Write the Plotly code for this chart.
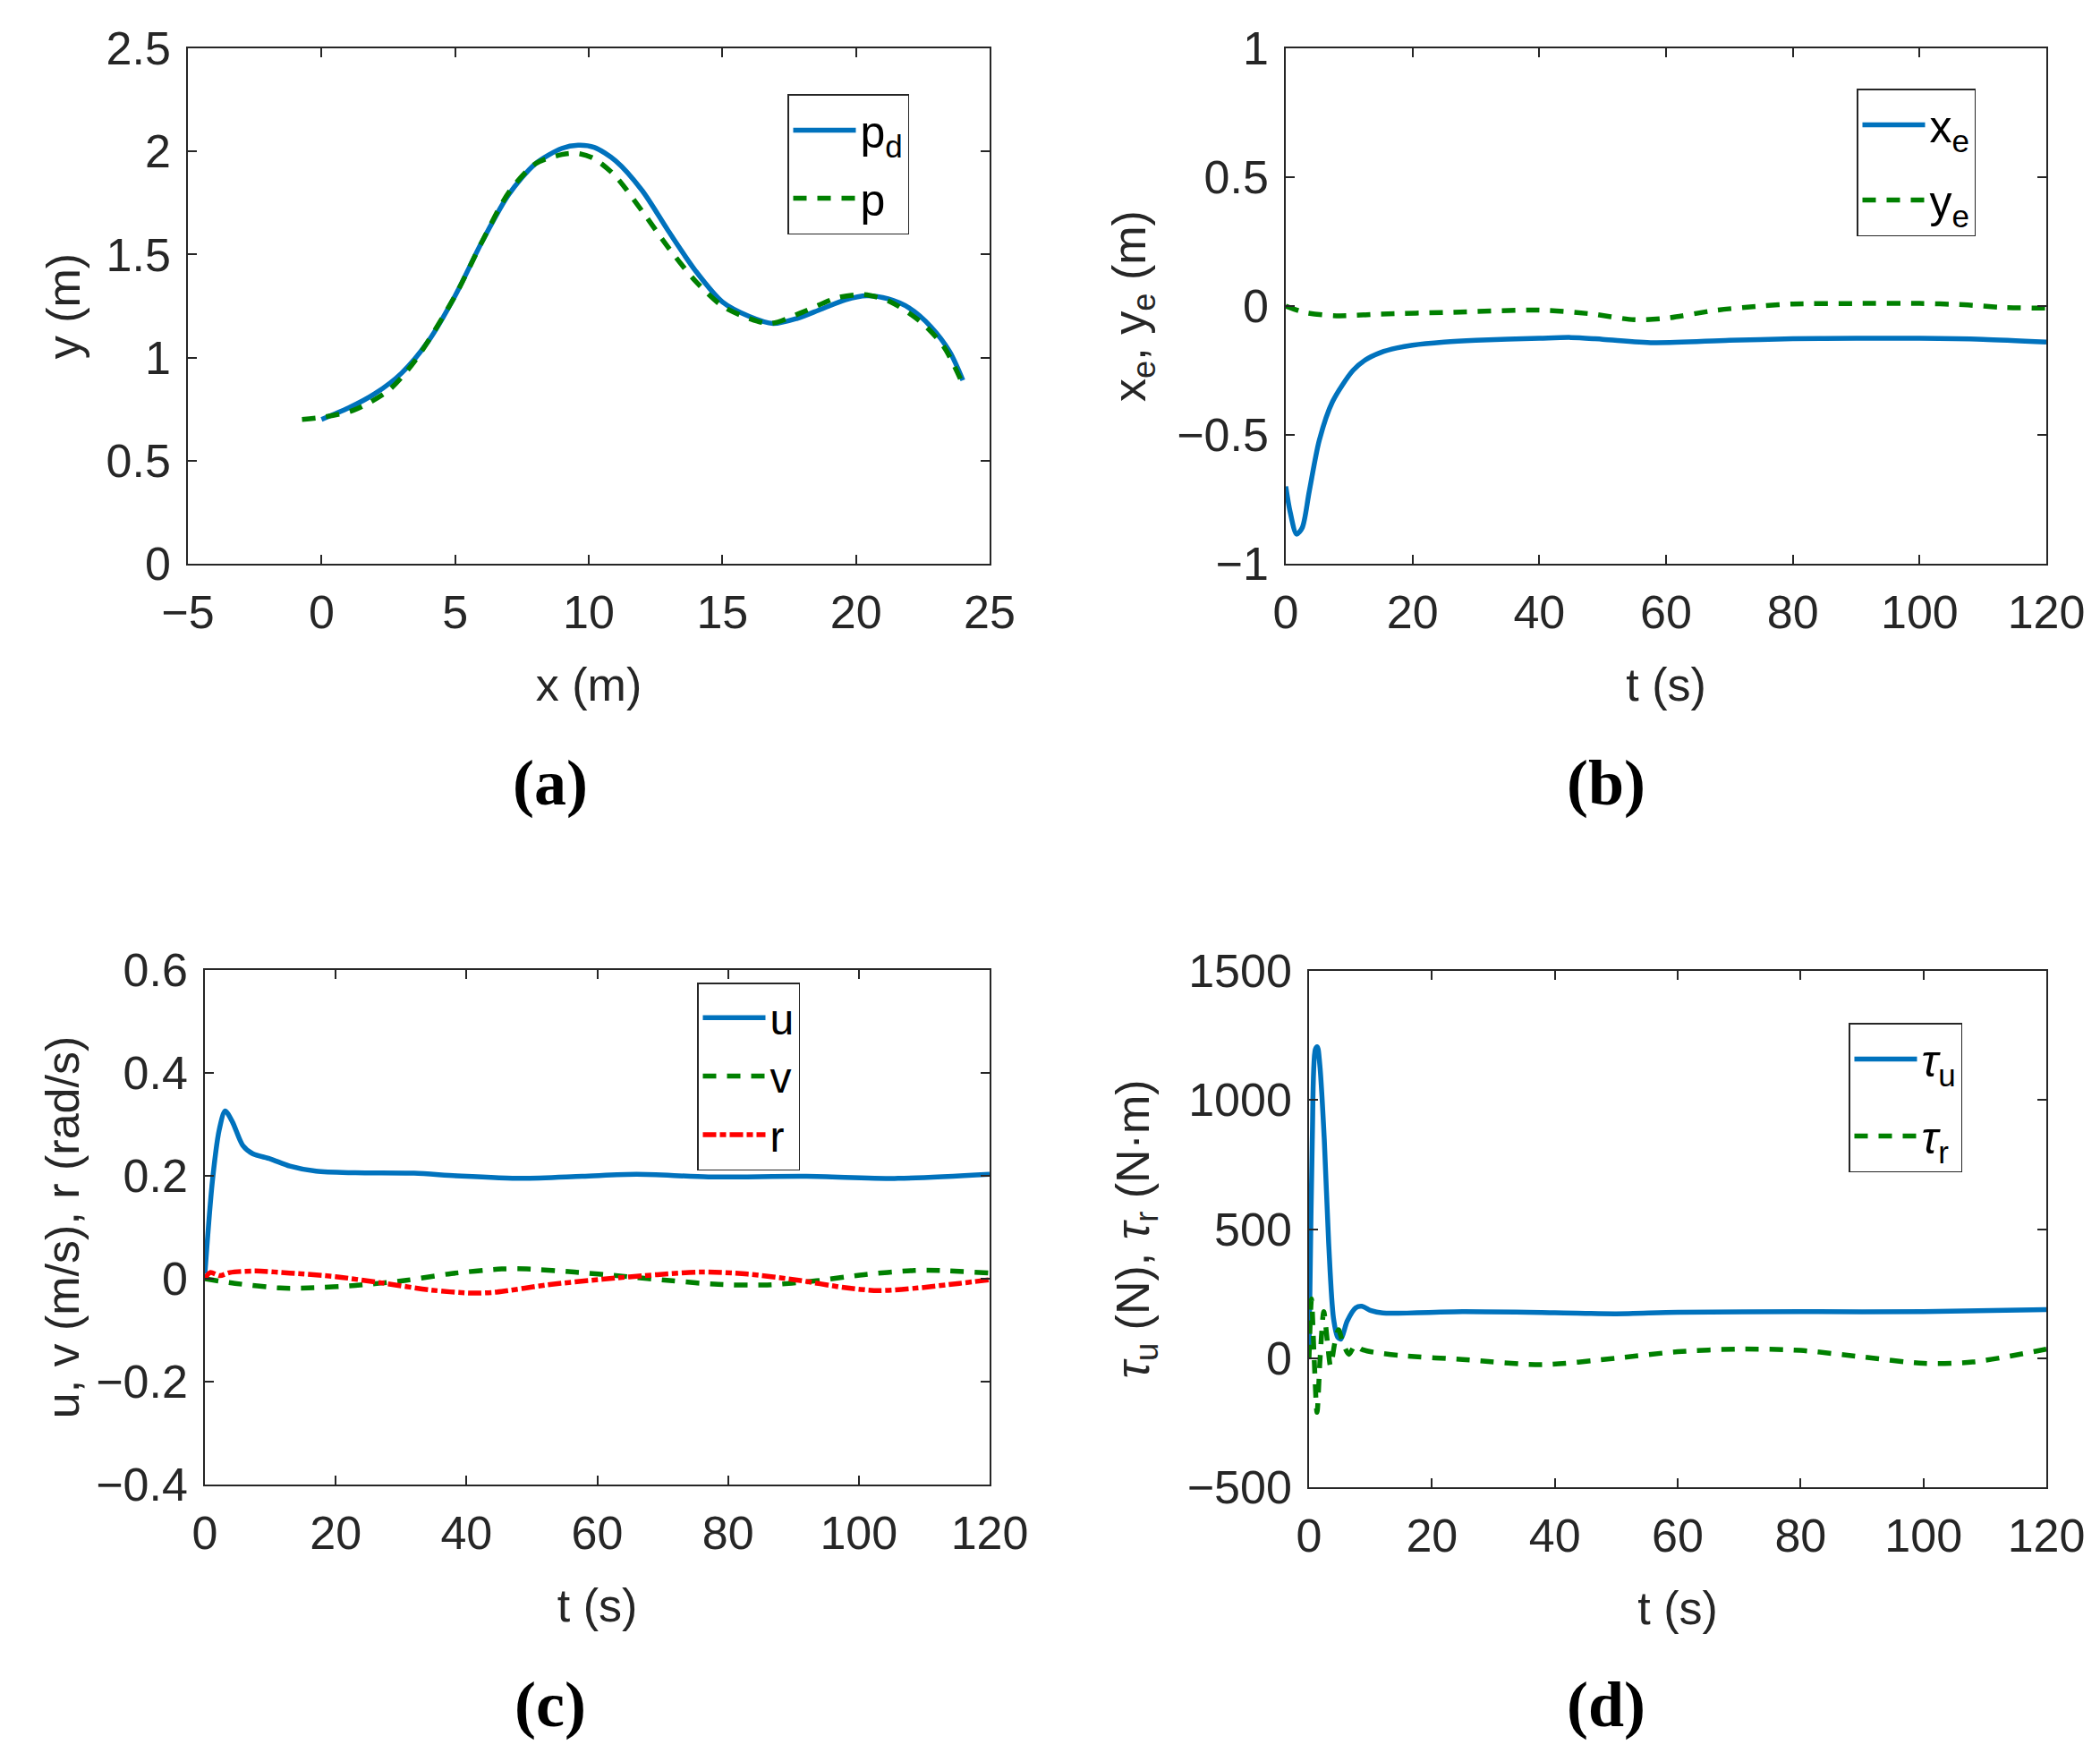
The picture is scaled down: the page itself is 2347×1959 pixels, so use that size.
import plotly.graph_objects as go

# ---- data ----
# (a) path: desired vs actual
pd_x = [0, 1, 2, 3, 4, 5, 6, 7, 8, 9, 9.6, 10.2, 11, 12, 13, 14, 15, 16, 16.9, 17.8, 18.7, 19.6, 20.4, 21.2, 22, 22.8, 23.5, 24]
pd_y = [0.70, 0.755, 0.825, 0.925, 1.08, 1.30, 1.56, 1.79, 1.94, 2.015, 2.03, 2.02, 1.955, 1.81, 1.61, 1.42, 1.27, 1.20, 1.165, 1.19, 1.235, 1.28, 1.30, 1.285, 1.24, 1.15, 1.03, 0.89]
p_x = [-0.73, 0, 1.2, 2.5, 3.5, 5, 6, 7, 8, 9, 9.6, 10.2, 11, 12, 13, 14, 15, 16, 16.8, 18, 19.3, 20.3, 21.3, 22.5, 23.3, 24]
p_y = [0.70, 0.71, 0.745, 0.84, 0.985, 1.30, 1.56, 1.80, 1.94, 1.985, 1.99, 1.965, 1.88, 1.71, 1.53, 1.37, 1.25, 1.19, 1.165, 1.22, 1.29, 1.305, 1.27, 1.165, 1.05, 0.87]

# (b) tracking errors
xe_t = [0, 0.7, 1.7, 2.6, 3.7, 5.3, 7.4, 10.6, 12.5, 15, 17.5, 20, 25, 30, 40, 45, 50, 58, 70, 80, 90, 100, 110, 120]
xe = [-0.70, -0.80, -0.885, -0.86, -0.72, -0.52, -0.37, -0.25, -0.21, -0.18, -0.163, -0.152, -0.14, -0.133, -0.125, -0.122, -0.129, -0.142, -0.133, -0.127, -0.125, -0.125, -0.129, -0.14]
ye_t = [0, 3, 8, 15, 25, 40, 48, 55, 60, 68, 75, 80, 90, 100, 107, 113, 120]
ye = [0.0, -0.025, -0.038, -0.031, -0.025, -0.016, -0.03, -0.053, -0.047, -0.016, 0.0, 0.008, 0.01, 0.01, 0.005, -0.005, -0.008]

# (c) velocities
u_t = [0, 1.15, 2.2, 3.1, 4.2, 5.8, 7.3, 10, 13, 17, 23, 32, 38.5, 48.5, 57.7, 66, 77, 92, 106, 120]
u = [0.01, 0.19, 0.29, 0.326, 0.305, 0.259, 0.243, 0.233, 0.219, 0.209, 0.206, 0.205, 0.200, 0.195, 0.199, 0.203, 0.198, 0.199, 0.195, 0.203]
v_t = [0, 4.6, 11.5, 15.8, 23, 30.8, 37.7, 45.4, 49.2, 56.5, 63.8, 71.5, 78.5, 86, 93.5, 100.8, 108.5, 112.3, 120]
v = [0.0, -0.009, -0.018, -0.018, -0.013, -0.003, 0.01, 0.019, 0.019, 0.013, 0.005, -0.004, -0.011, -0.012, -0.004, 0.008, 0.016, 0.016, 0.011]
r_t = [0, 0.8, 2.3, 3.8, 7.7, 13, 20, 27, 34.6, 40.8, 44.6, 52.3, 60.8, 69.2, 76, 83, 90.8, 97.7, 103, 109, 115.4, 120]
r = [0.0, 0.012, 0.006, 0.012, 0.015, 0.011, 0.004, -0.008, -0.022, -0.028, -0.026, -0.012, -0.001, 0.008, 0.013, 0.009, -0.003, -0.017, -0.023, -0.018, -0.009, -0.002]

# (d) control inputs
tu_t = [0, 0.15, 0.53, 1.02, 1.36, 1.75, 2.48, 3.2, 3.98, 4.7, 5.2, 6.2, 7.6, 8.6, 10.1, 12, 25, 40, 50, 60, 80, 100, 120]
tau_u = [50, 270, 848, 1195, 1206, 1137, 848, 444, 155, 80, 74, 143, 195, 201, 184, 175, 180, 176, 172, 178, 180, 180, 188]
tr_t = [0, 0.4, 0.8, 1.3, 1.8, 2.4, 3.0, 3.5, 4.2, 4.8, 5.5, 6.5, 7.5, 8.5, 10, 15, 25, 38, 50, 60, 70, 80, 90, 100, 108, 120]
tau_r = [0, 230, 20, -210, 0, 180, 60, -30, 60, 110, 60, 15, 50, 35, 25, 10, -5, -25, 0, 25, 35, 30, 5, -20, -15, 35]

# tick labels
a_xticks = [-5, 0, 5, 10, 15, 20, 25]
a_xtext = ['\u22125', '0', '5', '10', '15', '20', '25']
a_yticks = [0, 0.5, 1, 1.5, 2, 2.5]
a_ytext = ['0', '0.5', '1', '1.5', '2', '2.5']
t_ticks = [0, 20, 40, 60, 80, 100, 120]
t_text = ['0', '20', '40', '60', '80', '100', '120']
b_yticks = [-1, -0.5, 0, 0.5, 1]
b_ytext = ['\u22121', '\u22120.5', '0', '0.5', '1']
c_yticks = [-0.4, -0.2, 0, 0.2, 0.4, 0.6]
c_ytext = ['\u22120.4', '\u22120.2', '0', '0.2', '0.4', '0.6']
d_yticks = [-500, 0, 500, 1000, 1500]
d_ytext = ['\u2212500', '0', '500', '1000', '1500']

W, H = 2347, 1959
OFF = 8  # page body margin in the browser
BLUE = '#0072BD'
GREEN = '#008000'
RED = '#FF0000'
INK = '#262626'
LW = 5.5
DASH = '15px,12px'
DASHDOT = '15px,4px,7px,4px'

fig = go.Figure()

def line(x, y, name, color, dash, xa, ya, leg):
    fig.add_trace(go.Scatter(
        x=x, y=y, name=name, mode='lines', xaxis=xa, yaxis=ya,
        legend=leg, legendgroup=name,
        line=dict(color=color, width=LW, dash=dash, shape='spline', smoothing=0.8)
    ))

line(pd_x, pd_y, 'p<sub>d</sub>', BLUE, 'solid', 'x', 'y', 'legend')
line(p_x, p_y, 'p', GREEN, DASH, 'x', 'y', 'legend')
line(xe_t, xe, 'x<sub>e</sub>', BLUE, 'solid', 'x2', 'y2', 'legend2')
line(ye_t, ye, 'y<sub>e</sub>', GREEN, DASH, 'x2', 'y2', 'legend2')
line(u_t, u, 'u', BLUE, 'solid', 'x3', 'y3', 'legend3')
line(v_t, v, 'v', GREEN, DASH, 'x3', 'y3', 'legend3')
line(r_t, r, 'r', RED, DASHDOT, 'x3', 'y3', 'legend3')
line(tu_t, tau_u, '<i>\u03c4</i><sub>u</sub>', BLUE, 'solid', 'x4', 'y4', 'legend4')
line(tr_t, tau_r, '<i>\u03c4</i><sub>r</sub>', GREEN, DASH, 'x4', 'y4', 'legend4')

tick_font = dict(family='Liberation Sans', size=52, color=INK)
title_font = dict(family='Liberation Sans', size=52, color=INK)

def ax(domain, rng, vals, text, title, anchor, standoff, lab_off):
    return dict(domain=domain, range=rng, tickvals=vals, ticktext=text,
                showline=True, linecolor=INK, linewidth=1.5, mirror='ticks',
                ticks='inside', ticklen=10, tickwidth=1.5, tickcolor=INK,
                showgrid=False, zeroline=False, tickfont=tick_font,
                ticklabelstandoff=lab_off, automargin=False,
                anchor=anchor,
                title=dict(text=title, font=title_font, standoff=standoff))

def fx(a):
    return (a - OFF) / W

def fy(b):
    return 1 - (b - OFF) / H

def px(a, b):
    return [fx(a), fx(b)]

def py(top, bottom):
    return [fy(bottom), fy(top)]

XS, YS = 34, 12

fig.update_layout(
    width=W, height=H, margin=dict(l=0, r=0, t=0, b=0, autoexpand=False),
    paper_bgcolor='white', plot_bgcolor='white',
    xaxis=ax(px(210, 1106), [-5, 25], a_xticks, a_xtext, 'x (m)', 'y', XS, 8),
    yaxis=ax(py(54, 630), [0, 2.5], a_yticks, a_ytext, 'y (m)', 'x', YS, 7),
    xaxis2=ax(px(1437, 2287), [0, 120], t_ticks, t_text, 't (s)', 'y2', XS, 8),
    yaxis2=ax(py(54, 630), [-1, 1], b_yticks, b_ytext, 'x<sub>e</sub>, y<sub>e</sub> (m)', 'x2', 18, 7),
    xaxis3=ax(px(229, 1106), [0, 120], t_ticks, t_text, 't (s)', 'y3', XS, 8),
    yaxis3=ax(py(1084, 1659), [-0.4, 0.6], c_yticks, c_ytext, 'u, v (m/s), r (rad/s)', 'x3', 2, 7),
    xaxis4=ax(px(1463, 2287), [0, 120], t_ticks, t_text, 't (s)', 'y4', XS, 8),
    yaxis4=ax(py(1085, 1662), [-500, 1500], d_yticks, d_ytext,
              '<i>\u03c4</i><sub>u</sub> (N), <i>\u03c4</i><sub>r</sub> (N\u00b7m)', 'x4', 26, 7),
)

def leg(x, y, size, gap):
    return dict(x=fx(x), y=fy(y), bgcolor='white', bordercolor=INK, borderwidth=1.5,
                font=dict(family='Liberation Sans', size=size, color='black'),
                xanchor='left', yanchor='top', itemwidth=70, tracegroupgap=gap)

fig.update_layout(
    legend=leg(880, 105, 50, 8),
    legend2=leg(2075, 99, 50, 16),
    legend3=leg(779, 1098, 48, 0),
    legend4=leg(2066, 1143, 50, 18),
)

# sub-figure labels
for lab, cx, cy in [('(a)', 615, 875), ('(b)', 1795, 875), ('(c)', 615, 1905), ('(d)', 1795, 1905)]:
    fig.add_annotation(text='<b>' + lab + '</b>', x=fx(cx), y=fy(cy), xref='paper', yref='paper',
                       showarrow=False, xanchor='center', yanchor='middle',
                       font=dict(family='Liberation Serif', size=72, color='black'))

fig.write_html("out.html")
